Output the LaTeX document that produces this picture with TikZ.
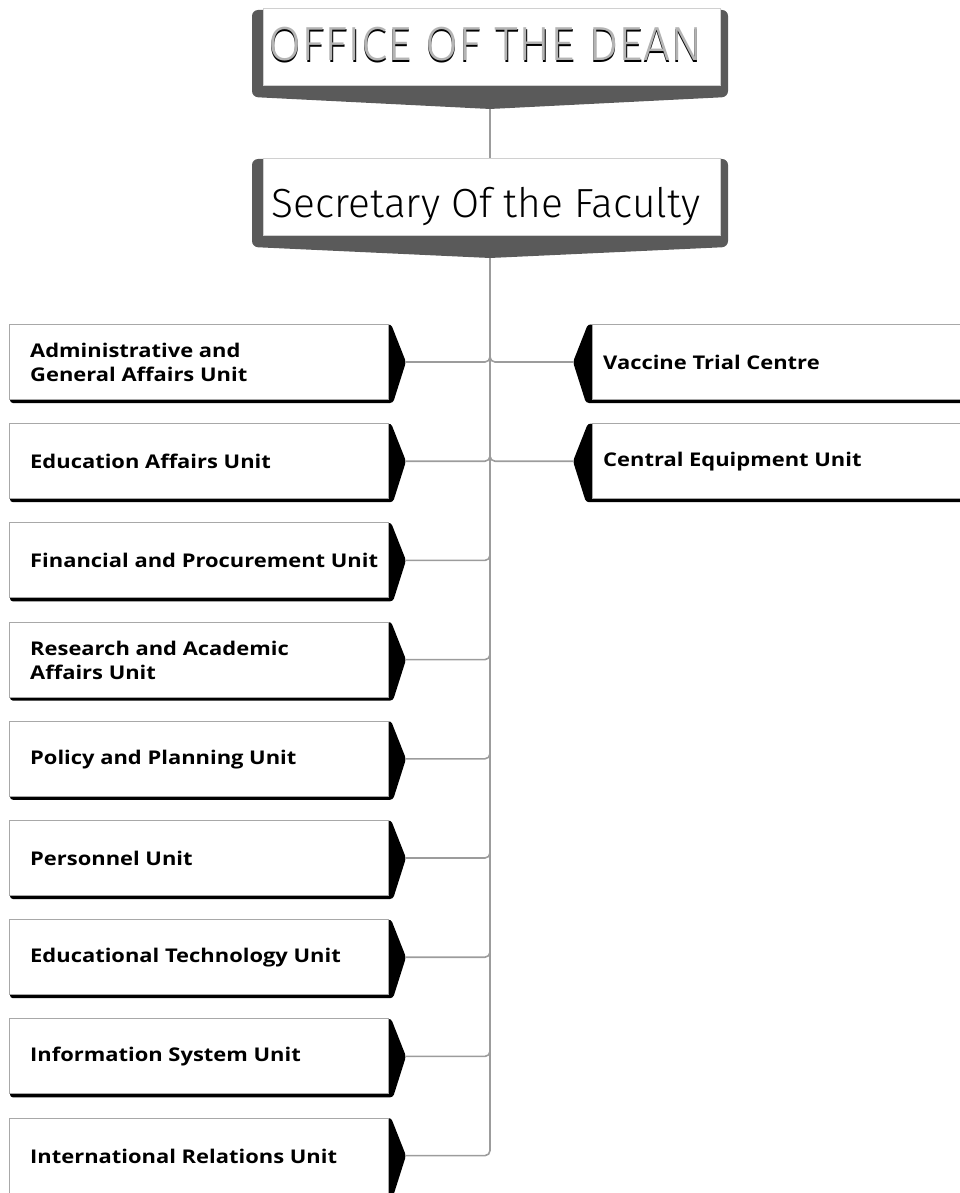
\documentclass[tikz,border=0pt]{standalone}
\usepackage{fontspec}
\setmainfont{Fira Sans}
\newfontfamily\headfont{Fira Sans Light}
\newfontfamily\unitfont{Open Sans Bold}[FakeStretch=1.16]
\usetikzlibrary{calc}

\definecolor{frame}{HTML}{5A5A5A}
\definecolor{wire}{HTML}{9C9C9C}
\definecolor{edge}{HTML}{A8A8A8}
\definecolor{headedge}{HTML}{D0D0D0}
\definecolor{shade}{HTML}{B4B4B4}

\tikzset{
  conn/.style={draw=wire, line width=1.6pt, rounded corners=5pt},
  card/.style={fill=white, draw=edge, line width=0.9pt, inner sep=0pt, anchor=north west},
  headcard/.style={card, draw=headedge, minimum width=457pt, minimum height=77pt},
  plate/.style={fill=frame, rounded corners=6pt},
  tab/.style={fill=black, rounded corners=3pt},
  unitlabel/.style={anchor=west, align=left, inner sep=0pt,
    font=\unitfont\fontsize{18.9}{24}\selectfont},
}

\begin{document}
\begin{tikzpicture}[x=1pt, y=-1pt]
\useasboundingbox (0,0) rectangle (959,1193);

% --- Office of the Dean ---
\fill[plate] (252,10) -- (728,10) -- (728,97) -- (490,109) -- (252,97) -- cycle;
\node[headcard] (dean) at (263,8) {};
\coordinate (deantip) at (490,109);
\node[anchor=base, inner sep=0pt] (deantext) at (486,63)
  {\resizebox{434pt}{!}{\headfont OFFICE OF THE DEAN}};
\node[anchor=base, inner sep=0pt, text=shade] (deanglow) at (485.4,61)
  {\resizebox{434pt}{!}{\headfont OFFICE OF THE DEAN}};

% --- Secretary of the Faculty ---
\fill[plate] (252,159) -- (728,159) -- (728,247) -- (490,258) -- (252,247) -- cycle;
\node[headcard] (sec) at (263,158) {};
\coordinate (sectip) at (490,258);
\node[anchor=base, inner sep=0pt] (sectext) at (486,217)
  {\resizebox{428pt}{!}{\headfont Secretary Of the Faculty}};

\draw[conn] (deantip) -- (deantip |- sec.north);

% --- units on the left ---
\foreach \i/\txt in {
  0/{Administrative and\\General Affairs Unit},
  1/{Education Affairs Unit},
  2/{Financial and Procurement Unit},
  3/{Research and Academic\\Affairs Unit},
  4/{Policy and Planning Unit},
  5/{Personnel Unit},
  6/{Educational Technology Unit},
  7/{Information System Unit},
  8/{International Relations Unit}} {
  \pgfmathsetmacro\T{324+99.2*\i}
  \fill[tab] (380,\T+2) -- (391,\T) -- (406,\T+38) -- (393,\T+79) -- (10,\T+79) -- (10,\T+40) -- cycle;
  \node[card, minimum width=379pt, minimum height=75pt] (L\i) at (9,\T) {};
  \node[unitlabel] (Lt\i) at (30,\T+38.5) {\txt};
  \coordinate (Ltip\i) at (406,\T+38);
}

% --- units on the right ---
\foreach \i/\txt in {0/{Vaccine Trial Centre}, 1/{Central Equipment Unit}} {
  \pgfmathsetmacro\T{324+99.2*\i}
  \fill[tab] (600,\T+2) -- (588,\T) -- (573,\T+38) -- (586,\T+79) -- (985,\T+79) -- (985,\T+40) -- cycle;
  \node[card, minimum width=390pt, minimum height=75pt] (R\i) at (592,\T) {};
  \node[unitlabel] (Rt\i) at (603,\T+38.5) {\txt};
  \coordinate (Rtip\i) at (573,\T+38);
}

% --- connectors ---
\draw[conn] (Ltip8) -| (sectip);
\foreach \i in {0,...,7} {
  \draw[conn] (Ltip\i) -- (Ltip\i -| sectip) -- ++(0,-12);
}
\foreach \i in {0,1} {
  \draw[conn] (Rtip\i) -- (Rtip\i -| sectip) -- ++(0,-12);
}
\end{tikzpicture}
\end{document}
